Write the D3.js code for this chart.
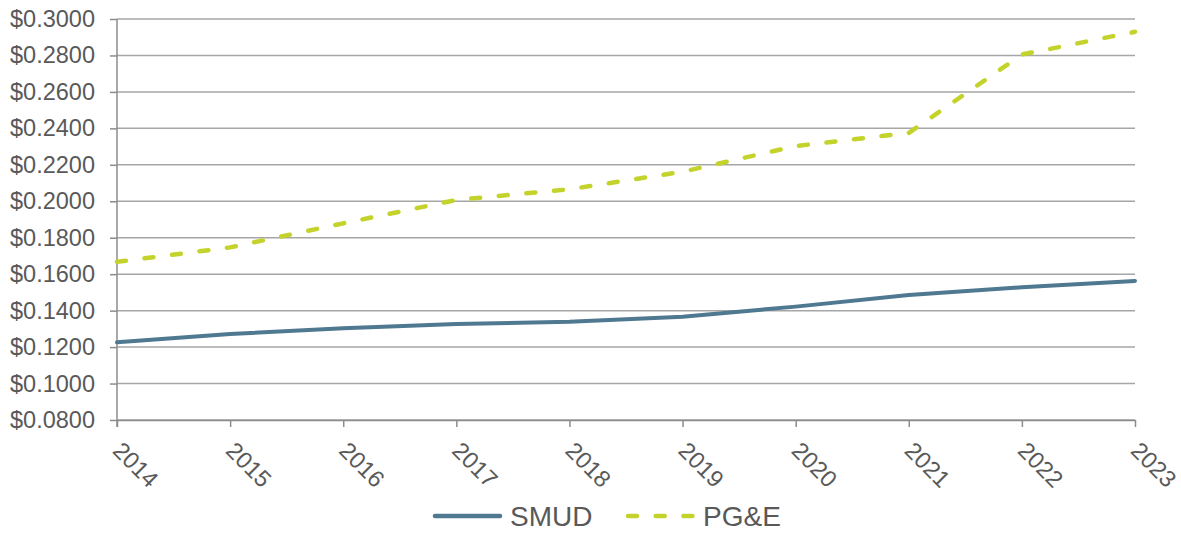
<!DOCTYPE html>
<html>
<head>
<meta charset="utf-8">
<script src="https://cdn.jsdelivr.net/npm/d3@7"></script>
<style>
  body { margin: 0; background: #ffffff; }
  svg { display: block; font-family: "Liberation Sans", Arial, sans-serif; }
</style>
</head>
<body>
<div id="Chart_Part"></div>
<script>
// data
var Years = [2014, 2015, 2016, 2017, 2018, 2019, 2020, 2021, 2022, 2023];
var SmudRates = [0.1226, 0.1272, 0.1303, 0.1327, 0.1339, 0.1367, 0.1422, 0.1486, 0.1528, 0.1563];
var PgeRates = [0.1668, 0.1747, 0.1879, 0.2007, 0.2066, 0.2162, 0.2303, 0.2375, 0.2805, 0.2930];
var RateTicks = [0.08, 0.10, 0.12, 0.14, 0.16, 0.18, 0.20, 0.22, 0.24, 0.26, 0.28, 0.30];
var SeriesNames = ["SMUD", "PG&E"];

var ChartWidth = 1181, ChartHeight = 534;
var Margin = {top: 19, right: 46, bottom: 114, left: 117};
var TextColor = "#595959";
var SmudColor = "#4f7891";
var PgeColor = "#c3d32b";
var TickFontSize = 23.5;

var svg = d3.select("#Chart_Part")
	.append("svg")
	.attr("width", ChartWidth)
	.attr("height", ChartHeight);

var x = d3.scaleLinear()
	.domain([Years[0], Years[Years.length - 1]])
	.range([Margin.left, ChartWidth - Margin.right]);

var y = d3.scaleLinear()
	.domain([RateTicks[0], RateTicks[RateTicks.length - 1]])
	.range([ChartHeight - Margin.bottom, Margin.top]);

// gridlines
svg.append("g")
	.selectAll("line")
	.data(RateTicks)
	.enter()
	.append("line")
	.attr("x1", Margin.left)
	.attr("x2", ChartWidth - Margin.right)
	.attr("y1", function(d){ return y(d); })
	.attr("y2", function(d){ return y(d); })
	.style("stroke", "#a6a6a6")
	.style("stroke-width", 1.5);

// y axis
var yAxis = svg.append("g")
	.attr("transform", "translate(" + Margin.left + ",0)")
	.call(d3.axisLeft(y)
		.tickValues(RateTicks)
		.tickSize(7)
		.tickPadding(15)
		.tickFormat(function(d){ return "$" + d.toFixed(4); }));

yAxis.select(".domain").remove();
yAxis.append("line")
	.attr("x1", 0).attr("x2", 0)
	.attr("y1", Margin.top).attr("y2", ChartHeight - Margin.bottom + 7)
	.style("stroke", "#8c8c8c")
	.style("stroke-width", 1.5);
yAxis.selectAll(".tick line").style("stroke", "#8c8c8c").style("stroke-width", 1.5);
yAxis.selectAll(".tick text")
	.style("font-size", TickFontSize + "px")
	.style("fill", TextColor);

// x axis
var xAxis = svg.append("g")
	.attr("transform", "translate(0," + (ChartHeight - Margin.bottom) + ")")
	.call(d3.axisBottom(x)
		.tickValues(Years)
		.tickSize(7)
		.tickSizeOuter(0)
		.tickFormat(d3.format("d")));

xAxis.select(".domain").style("stroke", "#8c8c8c").style("stroke-width", 1.5);
xAxis.selectAll(".tick line").style("stroke", "#8c8c8c").style("stroke-width", 1.5);
xAxis.selectAll(".tick text")
	.attr("x", 0)
	.attr("y", 0)
	.attr("dy", 0)
	.attr("transform", "translate(-6,32) rotate(45)")
	.style("text-anchor", "start")
	.style("font-size", TickFontSize + "px")
	.style("fill", TextColor);

// lines
var LineMaker = d3.line()
	.x(function(d, i){ return x(Years[i]); })
	.y(function(d){ return y(d); });

svg.append("path")
	.datum(SmudRates)
	.attr("d", LineMaker)
	.style("fill", "none")
	.style("stroke", SmudColor)
	.style("stroke-width", 4)
	.style("stroke-linejoin", "round")
	.style("stroke-linecap", "round");

svg.append("path")
	.datum(PgeRates)
	.attr("d", LineMaker)
	.style("fill", "none")
	.style("stroke", PgeColor)
	.style("stroke-width", 4.5)
	.style("stroke-dasharray", "9,18.7")
	.style("stroke-linejoin", "round")
	.style("stroke-linecap", "round");

// legend
var LegendY = 516;
var LegendItems = [
	{name: SeriesNames[0], color: SmudColor, dash: null, x: 433},
	{name: SeriesNames[1], color: PgeColor, dash: "9,18.7", x: 626}
];

var Legend = svg.append("g")
	.selectAll("g")
	.data(LegendItems)
	.enter()
	.append("g")
	.attr("transform", function(d){ return "translate(" + d.x + "," + LegendY + ")"; });

Legend.append("line")
	.attr("x1", 2).attr("x2", 67)
	.attr("y1", 0).attr("y2", 0)
	.style("stroke", function(d){ return d.color; })
	.style("stroke-width", 4.5)
	.style("stroke-linecap", "round")
	.style("stroke-dasharray", function(d){ return d.dash; });

Legend.append("text")
	.attr("x", 77)
	.attr("y", 10)
	.text(function(d){ return d.name; })
	.style("font-size", "28px")
	.style("fill", TextColor);
</script>
</body>
</html>
